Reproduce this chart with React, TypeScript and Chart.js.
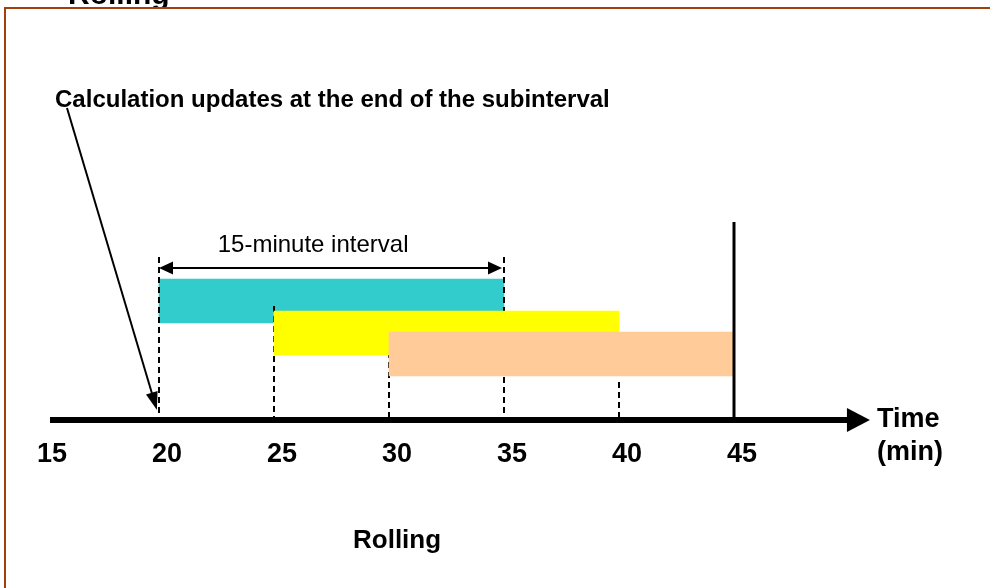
import React, { useEffect, useRef } from "react";
import { Chart, registerables } from "chart.js";

Chart.register(...registerables);

// ---- data (time in minutes, vertical levels in arbitrary diagram units) ----
const TICK_VALUES = [15, 20, 25, 30, 35, 40, 45];
const BAR_NAMES = ["Subinterval window 1", "Subinterval window 2", "Subinterval window 3"];
const BAR_STARTS = [20, 25, 30];
const BAR_ENDS = [35, 40, 45];
const BAR_LEVELS = [5.95, 4.35, 3.3];
const BAR_COLORS = ["#33CCCC", "#FFFF00", "#FFCC99"];
const DASH_TIMES = [20, 25, 30, 35, 40];
const DASH_TOPS = [8.15, 5.7, 4.4, 8.15, 1.9];
const NOW_TIME = 45;
const NOW_TOP = 9.9;
const INTERVAL_FROM = 20;
const INTERVAL_TO = 35;
const INTERVAL_LEVEL = 7.6;
const AXIS_FROM = 15.26;
const AXIS_TO = 50.91;
const POINTER_FROM = [16.0, 15.6];
const POINTER_TO = [19.91, 0.5];

const FONT = '"Liberation Sans", Arial, Helvetica, sans-serif';

type Note = { text: string; x: number; y: number; size: number; bold: boolean; align: CanvasTextAlign };
const NOTES: Note[] = [
  { text: "Calculation updates at the end of the subinterval", x: 15.48, y: 15.65, size: 24, bold: true, align: "left" },
  { text: "15-minute interval", x: 26.7, y: 8.4, size: 24, bold: false, align: "center" },
  { text: "Time", x: 51.22, y: -0.35, size: 27, bold: true, align: "left" },
  { text: "(min)", x: 51.22, y: -2.0, size: 27, bold: true, align: "left" },
  { text: "Rolling", x: 30.35, y: -6.4, size: 26, bold: true, align: "center" },
];

function arrowHead(
  ctx: CanvasRenderingContext2D,
  tipX: number,
  tipY: number,
  fromX: number,
  fromY: number,
  len: number,
  halfW: number
) {
  const a = Math.atan2(tipY - fromY, tipX - fromX);
  const bx = tipX - len * Math.cos(a);
  const by = tipY - len * Math.sin(a);
  ctx.beginPath();
  ctx.moveTo(tipX, tipY);
  ctx.lineTo(bx + halfW * Math.sin(a), by - halfW * Math.cos(a));
  ctx.lineTo(bx - halfW * Math.sin(a), by + halfW * Math.cos(a));
  ctx.closePath();
  ctx.fill();
}

const diagramPlugin = {
  id: "diagram",
  beforeDraw(chart: any) {
    const ctx: CanvasRenderingContext2D = chart.ctx;
    ctx.save();
    ctx.fillStyle = "#ffffff";
    ctx.fillRect(0, 0, chart.width, chart.height);
    // clipped title of the frame above
    ctx.beginPath();
    ctx.rect(0, 0, chart.width, 7);
    ctx.clip();
    ctx.fillStyle = "#000";
    ctx.font = `bold 30px ${FONT}`;
    ctx.textAlign = "left";
    ctx.textBaseline = "alphabetic";
    ctx.fillText("Rolling", 68, 4);
    ctx.restore();
    // frame
    ctx.save();
    ctx.fillStyle = "#A0410D";
    ctx.fillRect(4, 7, chart.width - 4, 2);
    ctx.fillRect(4, 7, 2, chart.height - 7);
    ctx.restore();
  },
  afterDatasetDraw(chart: any, args: any) {
    if (args.index !== 0) return;
    const ctx: CanvasRenderingContext2D = chart.ctx;
    const xs = chart.scales.x;
    const ys = chart.scales.y;
    ctx.save();
    ctx.strokeStyle = "#000";
    ctx.lineWidth = 2;
    ctx.setLineDash([6, 4]);
    DASH_TIMES.forEach((t, i) => {
      const x = xs.getPixelForValue(t);
      ctx.beginPath();
      ctx.moveTo(x, ys.getPixelForValue(DASH_TOPS[i]));
      ctx.lineTo(x, ys.getPixelForValue(0));
      ctx.stroke();
    });
    ctx.restore();
  },
  afterDatasetsDraw(chart: any) {
    const ctx: CanvasRenderingContext2D = chart.ctx;
    const xs = chart.scales.x;
    const ys = chart.scales.y;
    const px = (v: number) => xs.getPixelForValue(v);
    const py = (v: number) => ys.getPixelForValue(v);
    ctx.save();
    ctx.fillStyle = "#000";
    ctx.strokeStyle = "#000";

    // time axis with arrow
    const y0 = py(0);
    const tip = px(AXIS_TO);
    ctx.fillRect(px(AXIS_FROM), y0 - 3, tip - 20 - px(AXIS_FROM), 6);
    arrowHead(ctx, tip, y0, tip - 30, y0, 23, 12);

    // "now" line
    ctx.lineWidth = 3;
    ctx.beginPath();
    ctx.moveTo(px(NOW_TIME), py(NOW_TOP));
    ctx.lineTo(px(NOW_TIME), y0);
    ctx.stroke();

    // 15-minute interval double arrow
    const iy = py(INTERVAL_LEVEL);
    const ix1 = px(INTERVAL_FROM);
    const ix2 = px(INTERVAL_TO) - 2;
    ctx.lineWidth = 2;
    ctx.beginPath();
    ctx.moveTo(ix1 + 8, iy);
    ctx.lineTo(ix2 - 8, iy);
    ctx.stroke();
    arrowHead(ctx, ix1, iy, ix2, iy, 14, 6.5);
    arrowHead(ctx, ix2, iy, ix1, iy, 14, 6.5);

    // pointer arrow
    const fx = px(POINTER_FROM[0]);
    const fy = py(POINTER_FROM[1]);
    const tx = px(POINTER_TO[0]);
    const ty = py(POINTER_TO[1]);
    const ang = Math.atan2(ty - fy, tx - fx);
    ctx.lineWidth = 2;
    ctx.beginPath();
    ctx.moveTo(fx, fy);
    ctx.lineTo(tx - 10 * Math.cos(ang), ty - 10 * Math.sin(ang));
    ctx.stroke();
    arrowHead(ctx, tx, ty, fx, fy, 18, 6);

    // texts
    ctx.textBaseline = "alphabetic";
    NOTES.forEach((n) => {
      ctx.font = `${n.bold ? "bold " : ""}${n.size}px ${FONT}`;
      ctx.textAlign = n.align;
      ctx.fillText(n.text, px(n.x), py(n.y));
    });
    ctx.restore();
  },
};

export default function App() {
  const ref = useRef<HTMLCanvasElement>(null);
  useEffect(() => {
    document.body.style.margin = "0";
    const canvas = ref.current!;
    const chart = new Chart(canvas, {
      type: "bar",
      data: {
        datasets: BAR_NAMES.map((name, i) => ({
          label: name,
          data: [{ x: [BAR_STARTS[i], BAR_ENDS[i]], y: BAR_LEVELS[i] }] as any,
          backgroundColor: BAR_COLORS[i],
          borderWidth: 0,
          barThickness: 44,
          order: BAR_NAMES.length - i,
        })),
      },
      options: {
        indexAxis: "y",
        responsive: false,
        animation: false,
        devicePixelRatio: 1,
        grouped: false,
        layout: { padding: { left: 44, right: 141, top: 20, bottom: 108 } },
        plugins: {
          legend: { display: false },
          tooltip: { enabled: false },
        },
        scales: {
          y: { type: "linear", min: 0, max: 20, offset: false, display: false },
          x: {
            type: "linear",
            position: "bottom",
            min: 15,
            max: 50,
            offset: false,
            grid: { display: false, drawTicks: false },
            border: { display: false },
            afterBuildTicks: (s: any) => {
              s.ticks = TICK_VALUES.map((v) => ({ value: v }));
            },
            afterFit: (s: any) => {
              s.height = 60;
            },
            ticks: {
              autoSkip: false,
              maxRotation: 0,
              minRotation: 0,
              padding: 18,
              labelOffset: 8,
              color: "#000",
              font: { family: FONT, size: 27, weight: "bold" },
              callback: (v: any) => String(v),
            },
          },
        },
      } as any,
      plugins: [diagramPlugin],
    });
    return () => chart.destroy();
  }, []);
  return (
    <div style={{ width: 990, height: 588 }}>
      <canvas ref={ref} width={990} height={588} style={{ display: "block" }} />
    </div>
  );
}
